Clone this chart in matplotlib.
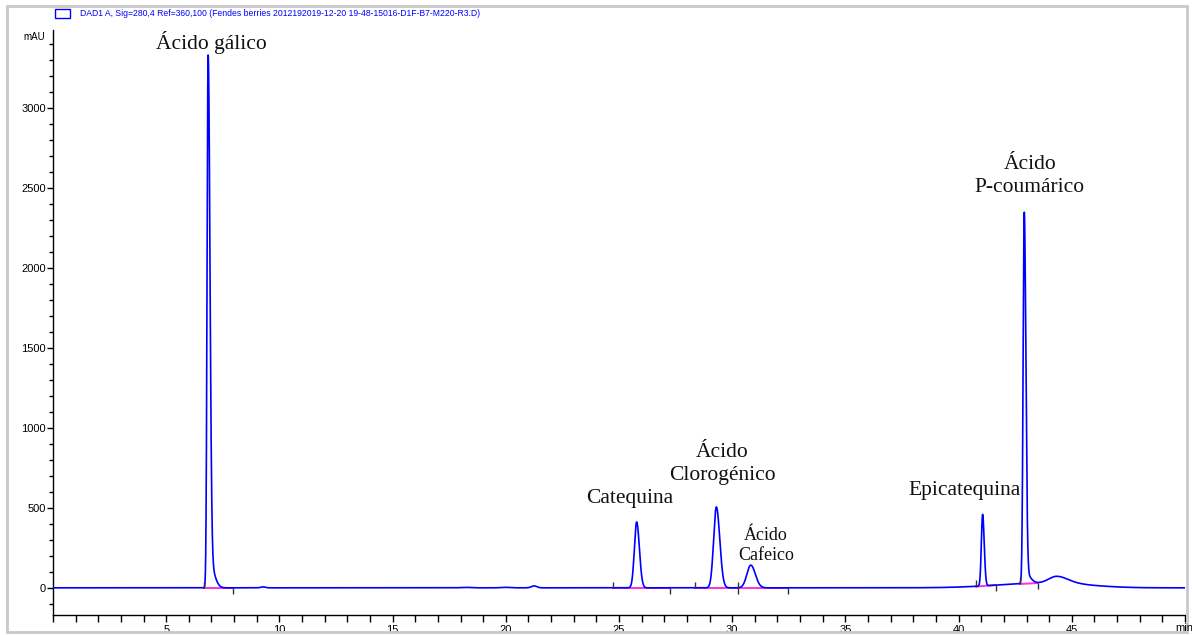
import numpy as np
import matplotlib
matplotlib.use("Agg")
import matplotlib.pyplot as plt
from matplotlib.patches import Rectangle
from matplotlib.ticker import MultipleLocator

# ---- data: peak table (min, mAU) ----
peak_rt      = [6.85, 6.92, 9.28, 18.2, 20.0, 21.25, 25.78, 29.30, 30.82, 41.06, 42.90, 42.97, 43.80, 44.35, 45.60]
peak_height  = [3275, 150, 6, 3, 3, 12, 412, 506, 142, 448, 2300, 60, 30, 44, 10]
peak_sig_l   = [0.045, 0.05, 0.10, 0.2, 0.2, 0.12, 0.10, 0.12, 0.17, 0.055, 0.05, 0.05, 2.0, 0.35, 0.6]
peak_sig_r   = [0.080, 0.20, 0.10, 0.2, 0.2, 0.12, 0.12, 0.15, 0.20, 0.070, 0.07, 0.20, 1.2, 0.50, 1.2]

# integration baselines: start, end, level at start, level at end
int_start   = [6.65, 24.75, 28.35, 30.25, 40.78, 42.7]
int_end     = [7.95, 27.25, 30.25, 32.45, 41.65, 43.5]
int_y_start = [0, 0, 0, 0, 8, 24]
int_y_end   = [0, 0, 0, 0, 18, 30]

labels     = ["Ácido gálico", "Catequina", "Ácido\nClorogénico", "Ácido\nCafeico", "Epicatequina", "Ácido\nP-coumárico"]
label_x    = [7.0, 25.45, 29.55, 31.5, 40.25, 43.15]
label_y    = [3412, 556, 775, 264, 612, 2576]
label_size = [15.5, 15.5, 15.5, 13, 15.5, 15.5]

x_major = [5, 10, 15, 20, 25, 30, 35, 40, 45]
y_major = [0, 500, 1000, 1500, 2000, 2500, 3000]

header = "DAD1 A, Sig=280,4 Ref=360,100 (Fendes berries 2012192019-12-20 19-48-15016-D1F-B7-M220-R3.D)"

# ---- build trace from the peak table ----
t = np.linspace(0, 50, 20001)
signal = np.zeros_like(t)
for rt, h, sl, sr in zip(peak_rt, peak_height, peak_sig_l, peak_sig_r):
    s = np.where(t < rt, sl, sr)
    signal += h * np.exp(-0.5 * ((t - rt) / s) ** 2)

W, H = 1192, 635
fig = plt.figure(figsize=(W / 100, H / 100), dpi=100)
ax = fig.add_axes([53 / W, 1 - 615 / H, (1185 - 53) / W, (615 - 30) / H])

narrow = ["Liberation Sans Narrow", "Liberation Sans", "DejaVu Sans"]
serif = ["Liberation Serif", "DejaVu Serif"]

ax.plot(t, signal, color="#0000ff", lw=1.2, zorder=3)

for xs, xe, ys, ye in zip(int_start, int_end, int_y_start, int_y_end):
    ax.plot([xs, xe], [ys, ye], color="#ff33dd", lw=1.4, zorder=2)
    ax.vlines(xs, ys, ys + 38, color="#333333", lw=1, zorder=4)
    ax.vlines(xe, ye - 38, ye, color="#333333", lw=1, zorder=4)

for txt, lx, ly, fs in zip(labels, label_x, label_y, label_size):
    ax.text(lx, ly, txt, ha="center", va="center", fontsize=fs, family=serif,
            linespacing=1.28, color="#111111")

ax.set_xlim(0, 50)
ax.set_ylim(-170, 3490)
for sp in ("top", "right"):
    ax.spines[sp].set_visible(False)
ax.spines["left"].set_linewidth(1)
ax.spines["bottom"].set_linewidth(1)

ax.set_xticks(x_major)
ax.set_xticklabels([str(v) for v in x_major], family=narrow, fontsize=8)
ax.xaxis.set_minor_locator(MultipleLocator(1))
ax.set_yticks(y_major)
ax.set_yticklabels([str(v) for v in y_major], family=narrow, fontsize=8)
ax.yaxis.set_minor_locator(MultipleLocator(100))
ax.tick_params(axis="x", which="both", direction="out", length=5, width=1, pad=2)
ax.tick_params(axis="y", which="major", direction="out", length=4, width=1, pad=1)
ax.tick_params(axis="y", which="minor", direction="out", length=3, width=1)

fig.text(45 / W, 1 - 37 / H, "mAU", ha="right", va="center", fontsize=7, family=narrow)
fig.text(1184 / W, 1 - 628 / H, "min", ha="center", va="center", fontsize=8, family=narrow)

# header legend
fig.patches.append(Rectangle((55 / W, 1 - 18 / H), 15 / W, 9 / H, transform=fig.transFigure,
                             fill=False, edgecolor="#0000ff", lw=1))
fig.text(80 / W, 1 - 13 / H, header, ha="left", va="center", fontsize=6.2, family=narrow,
         color="#0000ff")

# outer frame
fig.patches.append(Rectangle((7 / W, 1 - 632 / H), (1187 - 7) / W, (632 - 6) / H,
                             transform=fig.transFigure, fill=False, edgecolor="#c8c8c8", lw=2))

fig.savefig("out.png", dpi=100)
